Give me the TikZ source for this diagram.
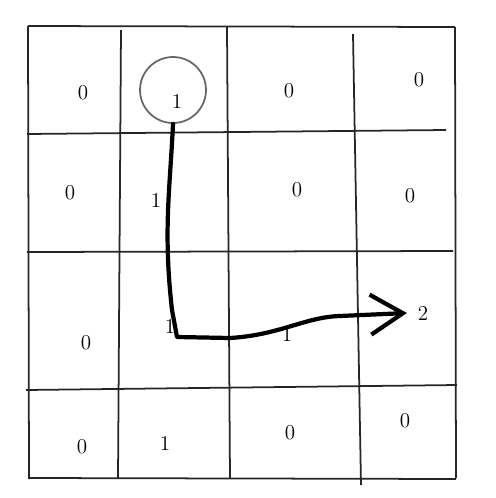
\documentclass[tikz,border=0pt]{standalone}
\usepackage{tikz}
\usetikzlibrary{arrows.meta}

\begin{document}
\begin{tikzpicture}[
    x=0.02cm, y=-0.02cm,
    gridline/.style={draw=black!85, line width=1pt},
    cellval/.style={inner sep=1pt, font=\large},
    startring/.style={circle, draw=black!60, line width=1pt, minimum size=1.32cm, inner sep=0},
    pathline/.style={line width=2.4pt, line cap=round, line join=round}
]
  \useasboundingbox (0,0) rectangle (495,498);

  % Grid (hand drawn, slightly skewed)
  \foreach \xa/\ya/\xb/\yb in {28/26/455/27, 29/478/456/479, 28/26/29/479, 455/27/456/478,
      27/134/446/130, 27/252/453/251, 26/390/457/385,
      121/30/118/478, 227/27/230/478, 353/34/361/485}{
    \draw[gridline] (\xa,\ya) -- (\xb,\yb);
  }

  % Start cell
  \node[startring] (ring) at (173,90) {};

  % Cell values
  \foreach \n/\px/\py/\v in {c11/83/93/0, c12/177/101/1, c13/289/91/0, c14/419/80/0,
      c21/70/193/0, c22/156/200/1, c23/297/190/0, c24/410/196/0,
      c31/86/343/0, c32/170/326/1, c33/287/334/1, c34/423/313/2,
      c41/82/447/0, c42/165/443/1, c43/290/433/0, c44/405/421/0}{
    \node[cellval] (\n) at (\px,\py) {\v};
  }

  % Path to the goal
  \coordinate (turn) at (177,337);
  \draw[pathline, -{Straight Barb[length=0.65cm, width=0.8cm, line width=2.4pt]}]
    (ring.south) .. controls (170,190) and (163,230) .. (172,310) -- (turn)
    -- (230,338) .. controls (280,335) and (305,317) .. (340,316)
    -- ([xshift=-5pt]c34.west);
\end{tikzpicture}
\end{document}
